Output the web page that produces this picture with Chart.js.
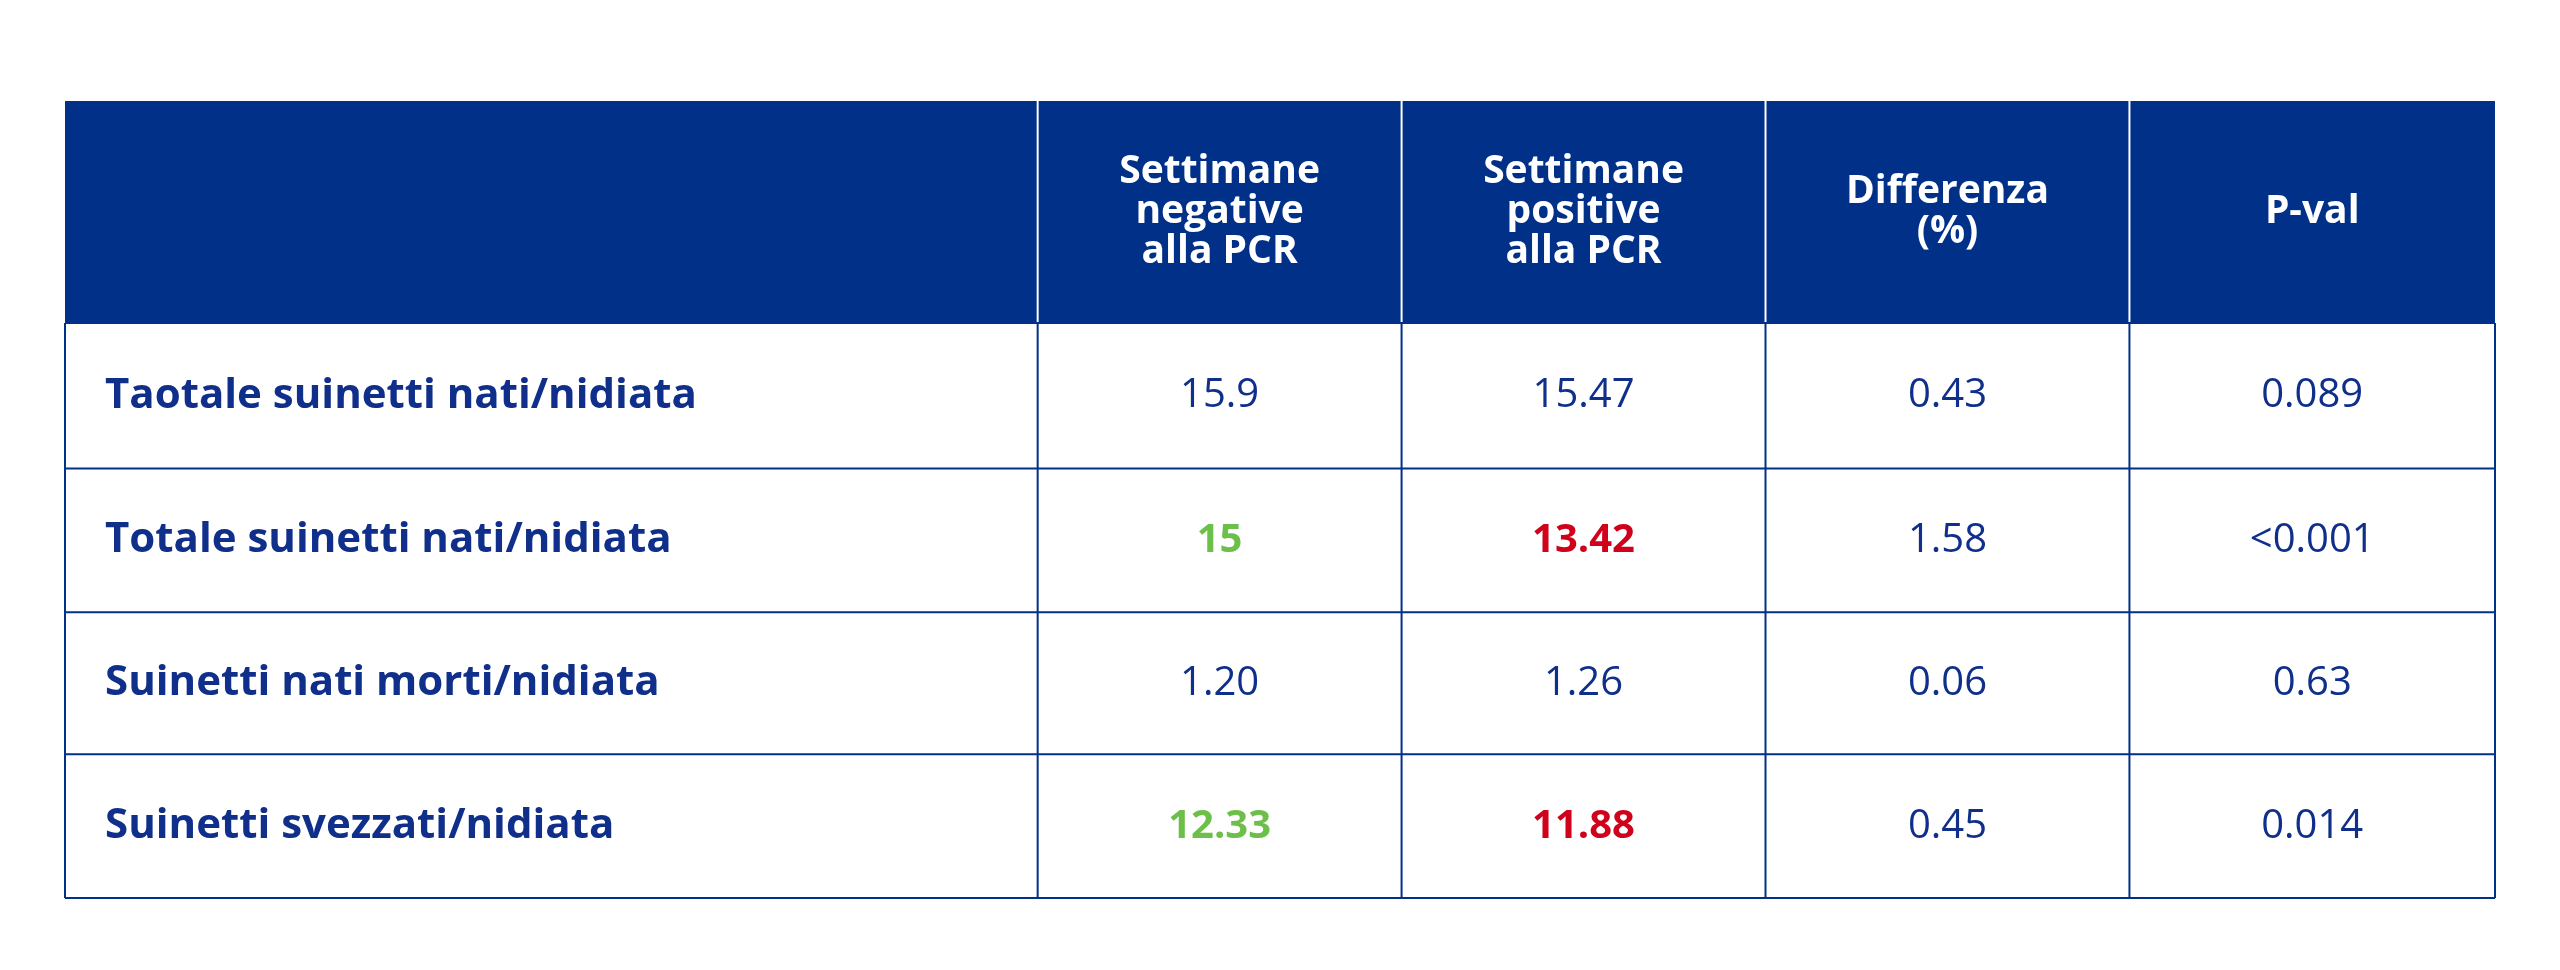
<!DOCTYPE html>
<html><head><meta charset="utf-8">
<script src="https://cdn.jsdelivr.net/npm/chart.js"></script>
<style>html,body{margin:0;padding:0;background:#fff}#c{display:block}</style>
</head><body>
<div style="width:2560px;height:970px"><canvas id="c"></canvas></div>
<script>
const headers = [[""], ["Settimane","negative","alla PCR"], ["Settimane","positive","alla PCR"], ["Differenza","(%)"], ["P-val"]];
const rowLabels = ["Taotale suinetti nati/nidiata","Totale suinetti nati/nidiata","Suinetti nati morti/nidiata","Suinetti svezzati/nidiata"];
const negative = ["15.9","15","1.20","12.33"];
const positive = ["15.47","13.42","1.26","11.88"];
const difference = ["0.43","1.58","0.06","0.45"];
const pval = ["0.089","<0.001","0.63","0.014"];
const highlight = ["none","both","none","both"];
const colWidths = [596,223,223,223,224];
const rowHeights = [136,89,88,87,88];

const NAVY="#003087", TEXT="#0f2f8a", GREEN="#6cc04a", RED="#d0021b";
const colEdges=[0]; colWidths.forEach(w=>colEdges.push(colEdges[colEdges.length-1]+w));
const rowEdges=[0]; rowHeights.forEach(h=>rowEdges.push(rowEdges[rowEdges.length-1]+h));
const FONT='"Source Sans Pro","Open Sans",sans-serif';

const tablePlugin={id:'table',afterDraw(chart){
  const ctx=chart.ctx,xs=chart.scales.x,ys=chart.scales.y;
  const X=v=>xs.getPixelForValue(v),Y=v=>ys.getPixelForValue(v);
  ctx.save();
  // header
  ctx.fillStyle=NAVY;ctx.fillRect(X(0),Y(0),X(colEdges[5])-X(0),Y(rowEdges[1])-Y(0));
  ctx.textAlign='center';ctx.textBaseline='middle';
  headers.forEach((lines,i)=>{
    const cx=(X(colEdges[i])+X(colEdges[i+1]))/2, cy=(Y(rowEdges[0])+Y(rowEdges[1]))/2;
    ctx.fillStyle='#fff';ctx.font='bold 39px '+FONT;
    const lh=40;lines.forEach((t,k)=>ctx.fillText(t,cx,cy+(k-(lines.length-1)/2)*lh));
  });
  // header separators
  ctx.strokeStyle='#ffffff';ctx.lineWidth=2;
  for(let i=1;i<5;i++){if(i===0)continue;ctx.beginPath();ctx.moveTo(X(colEdges[i]),Y(0));ctx.lineTo(X(colEdges[i]),Y(rowEdges[1]));ctx.stroke();}
  // body grid
  ctx.strokeStyle=NAVY;ctx.lineWidth=2;
  for(let r=1;r<=5;r++){ctx.beginPath();ctx.moveTo(X(0),Y(rowEdges[r]));ctx.lineTo(X(colEdges[5]),Y(rowEdges[r]));ctx.stroke();}
  for(let i=0;i<=5;i++){ctx.beginPath();ctx.moveTo(X(colEdges[i]),Y(rowEdges[1]));ctx.lineTo(X(colEdges[i]),Y(rowEdges[5]));ctx.stroke();}
  const cols=[negative,positive,difference,pval];
  rowLabels.forEach((lab,r)=>{
    const cy=(Y(rowEdges[r+1])+Y(rowEdges[r+2]))/2;
    ctx.textAlign='left';ctx.fillStyle=TEXT;ctx.font='bold 42px '+FONT;
    ctx.fillText(lab,X(0)+40,cy);
    ctx.textAlign='center';
    cols.forEach((arr,c)=>{
      const cx=(X(colEdges[c+1])+X(colEdges[c+2]))/2;
      let col=TEXT,f='40px '+FONT;
      if(highlight[r]==='both'&&c<2){col=c===0?GREEN:RED;f='bold 40px '+FONT;}
      ctx.fillStyle=col;ctx.font=f;ctx.fillText(arr[r],cx,cy);
    });
  });
  ctx.restore();
}};

new Chart(document.getElementById('c'),{
  type:'scatter',
  data:{datasets:[{data:[],pointRadius:0}]},
  options:{responsive:true,maintainAspectRatio:false,animation:false,
    layout:{padding:{left:65,right:65,top:101,bottom:72}},
    plugins:{legend:{display:false},tooltip:{enabled:false}},
    scales:{x:{type:'linear',min:0,max:colEdges[5],display:false},
            y:{type:'linear',min:0,max:rowEdges[5],reverse:true,display:false}}},
  plugins:[tablePlugin]
});
</script>
</body></html>
